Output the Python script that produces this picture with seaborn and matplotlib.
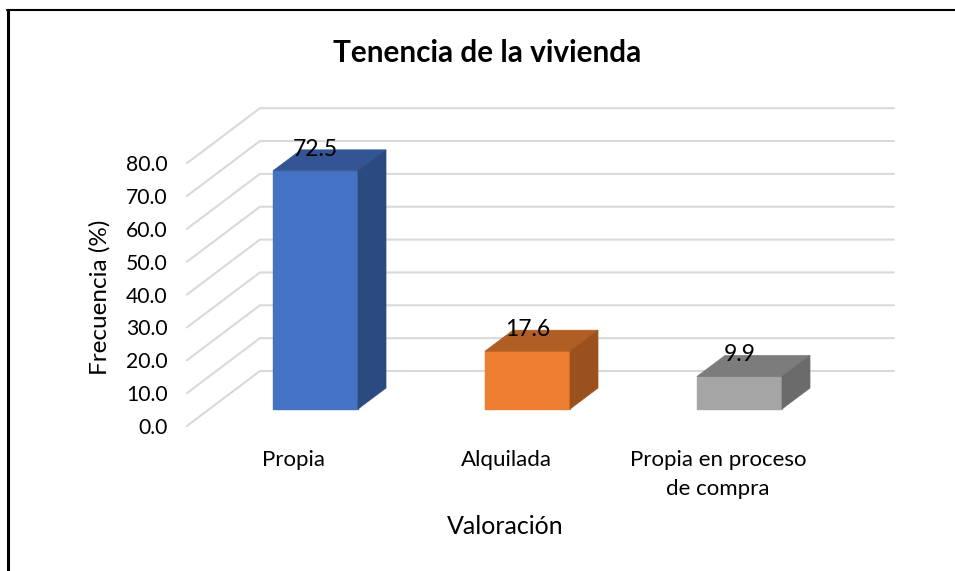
#!/usr/bin/env python3
import numpy as np
import pandas as pd
import matplotlib
matplotlib.use("Agg")
import matplotlib.pyplot as plt
from matplotlib.lines import Line2D
import seaborn as sns

categorias = ["Propia", "Alquilada", "Propia en proceso\nde compra"]
frecuencia = [72.5, 17.6, 9.9]
yticks = [0, 10, 20, 30, 40, 50, 60, 70, 80]
ylabels = ["0.0", "10.0", "20.0", "30.0", "40.0", "50.0", "60.0", "70.0", "80.0"]

col_frente = ["#4472C4", "#ED7D31", "#A5A5A5"]
col_lado = ["#2B4A7F", "#9B511E", "#6B6B6B"]
col_techo = ["#335593", "#B15E25", "#7C7C7C"]
GRIS = "#D9D9D9"

W, H = 955, 571
PX_Y = 3.285    # pixeles por unidad de frecuencia
PX_X = 212.0    # pixeles por categoria

sns.set_theme(style="white")
plt.rcParams["font.family"] = ["Lato", "DejaVu Sans"]

fig = plt.figure(figsize=(W / 100, H / 100), dpi=100)
left, right, bottom, top = 209.5, 845.5, 426, 90
ax = fig.add_axes([left / W, 1 - bottom / H, (right - left) / W, (bottom - top) / H])

df = pd.DataFrame({"valoracion": categorias, "frecuencia": frecuencia})
sns.barplot(data=df, x="valoracion", y="frecuencia", hue="valoracion",
            palette=col_frente, saturation=1, width=85 / PX_X, legend=False,
            ax=ax, zorder=3)

desp_y = 17 / PX_Y  # la barra esta metida en el piso
ax.set_xlim(-0.5, 2.5)
ax.set_ylim(-desp_y, (bottom - top) / PX_Y - desp_y)

# profundidad del piso y de la barra, en unidades de datos
pared_dx, pared_dy = 73 / PX_X, 55 / PX_Y
barra_dx, barra_dy = 28 / PX_X, 21 / PX_Y
x_ini = -0.5 - 22.6 / PX_X
x_fin = x_ini + 634 / PX_X

for t in yticks:
    y0 = t - desp_y
    ax.plot([x_ini, x_ini + pared_dx, x_fin + pared_dx], [y0, y0 + pared_dy, y0 + pared_dy],
            color=GRIS, lw=1.5, zorder=1, clip_on=False)

for i, cont in enumerate(ax.containers):
    for rect in cont:
        x0, w, h = rect.get_x(), rect.get_width(), rect.get_height()
        rect.set_edgecolor(col_frente[i])
        ax.fill([x0, x0 + barra_dx, x0 + w + barra_dx, x0 + w],
                [h, h + barra_dy, h + barra_dy, h],
                color=col_techo[i], lw=0.5, zorder=3, clip_on=False)
        ax.fill([x0 + w, x0 + w + barra_dx, x0 + w + barra_dx, x0 + w],
                [0, barra_dy, h + barra_dy, h],
                color=col_lado[i], lw=0.5, zorder=3, clip_on=False)
    etiquetas = ax.bar_label(cont, fmt="%.1f", padding=8, fontsize=16.5, color="black")
    for e in etiquetas:
        e.set_zorder(5)

ax.set_yticks(np.array(yticks) - desp_y, ylabels)
ax.tick_params(axis="y", length=0, pad=30, labelsize=15.2, labelcolor="black")
# las etiquetas van al frente del piso, no al centro de la barra
ax.set_xticks(np.arange(len(categorias)) - 21.5 / PX_X, categorias)
ax.tick_params(axis="x", length=0, pad=17, labelsize=16, labelcolor="black")
for lab in ax.get_xticklabels():
    lab.set_linespacing(1.6)
sns.despine(ax=ax, left=True, bottom=True)
ax.set_facecolor("none")
ax.grid(False)

ax.set_xlabel("Valoración", fontsize=18, color="black")
ax.xaxis.set_label_coords(505 / W, 1 - 527 / H, transform=fig.transFigure)
ax.xaxis.label.set_verticalalignment("center")
ax.set_ylabel("Frecuencia (%)", fontsize=17.5, color="black")
ax.yaxis.set_label_coords(99.5 / W, 1 - 297 / H, transform=fig.transFigure)
ax.yaxis.label.set_verticalalignment("center")

fig.text(487.5 / W, 1 - 53 / H, "Tenencia de la vivienda", ha="center", va="center",
         fontsize=21.4, fontweight="bold", color="black")

# marco de la imagen: solo arriba y a la izquierda
fig.add_artist(Line2D([7.5 / W, 7.5 / W], [0, 1 - 10 / H], color="black", lw=2.2))
fig.add_artist(Line2D([7 / W, 1], [1 - 10 / H, 1 - 10 / H], color="black", lw=1.5))

fig.savefig("out.png", dpi=100)
